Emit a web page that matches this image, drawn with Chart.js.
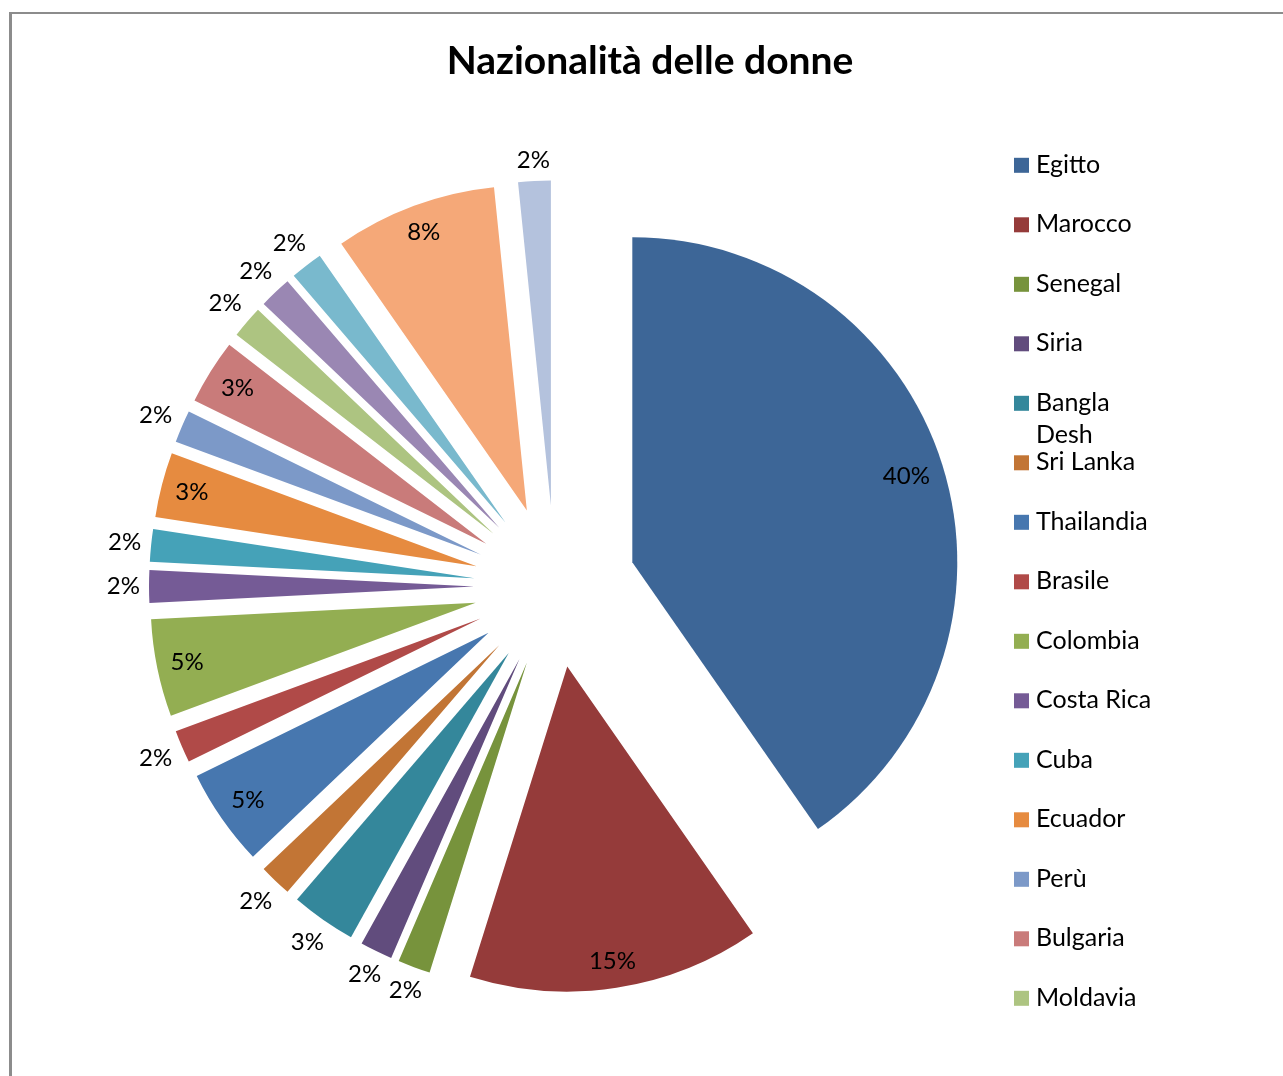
<!DOCTYPE html>
<html>
<head>
<meta charset="utf-8">
<script src="https://cdn.jsdelivr.net/npm/chart.js@4"></script>
<style>
  html, body { margin: 0; padding: 0; background: #fff; overflow: hidden; }
  #cornice {
    position: absolute; left: 9px; top: 12px; width: 1400px; height: 1200px;
    border-left: 3px solid #8c8c8c; border-top: 2px solid #8c8c8c;
  }
  #contenitore { position: absolute; left: 11px; top: 0; width: 1280px; height: 1093px; }
</style>
</head>
<body>
<div id="cornice"></div>
<div id="contenitore"><canvas id="grafico_nazionalita"></canvas></div>
<script>
// nazionalità (in ordine di inserimento) e numero di donne per ciascuna
const nazioni = ['Egitto', 'Marocco', 'Senegal', 'Siria', 'Bangla Desh', 'Sri Lanka', 'Thailandia',
  'Brasile', 'Colombia', 'Costa Rica', 'Cuba', 'Ecuador', 'Perù', 'Bulgaria', 'Moldavia',
  'Polonia', 'Russia', 'Romania', 'Ucraina'];
const donne = [25, 9, 1, 1, 2, 1, 3, 1, 3, 1, 1, 2, 1, 2, 1, 1, 1, 5, 1];

// colori delle fette
const colori = ['#3D6697', '#953B3A', '#77933C', '#614C7D', '#34879B', '#C27535', '#4777AF',
  '#B04A48', '#93AE52', '#755B96', '#45A2B8', '#E68B40', '#7C99C8', '#C97B7A', '#ADC481',
  '#9A87B3', '#79B9CD', '#F5A878', '#B4C2DD'];

// dove va la percentuale: dentro la fetta o fuori
const posizione_etichette = ['in', 'in', 'out', 'out', 'out', 'out', 'in', 'out', 'in', 'out',
  'out', 'in', 'out', 'in', 'out', 'out', 'out', 'in', 'out'];

const TITOLO = 'Nazionalità delle donne';
const DISTACCO = 81; // di quanto ogni fetta si stacca dal centro

// disegno le fette spostate lungo la loro bisettrice
const fette_staccate = {
  id: 'fette_staccate',
  beforeDatasetDraw(chart, args) {
    const ctx = chart.ctx;
    args.meta.data.forEach(arc => {
      const meta_angolo = (arc.startAngle + arc.endAngle) / 2;
      ctx.save();
      ctx.translate(Math.cos(meta_angolo) * DISTACCO, Math.sin(meta_angolo) * DISTACCO);
      arc.draw(ctx);
      ctx.restore();
    });
    return false;
  }
};

// percentuali sulle fette
const percentuali = {
  id: 'percentuali',
  afterDatasetsDraw(chart) {
    const ctx = chart.ctx;
    const meta = chart.getDatasetMeta(0);
    const totale = donne.reduce((a, b) => a + b, 0);
    ctx.save();
    ctx.font = '24px Lato';
    ctx.fillStyle = '#000';
    ctx.textAlign = 'center';
    ctx.textBaseline = 'middle';
    meta.data.forEach((arc, i) => {
      const angolo = (arc.startAngle + arc.endAngle) / 2;
      const cos = Math.cos(angolo), sin = Math.sin(angolo);
      const testo = Math.round(donne[i] / totale * 100) + '%';
      const mezza_larghezza = ctx.measureText(testo).width / 2;
      const ingombro = mezza_larghezza * Math.abs(cos) + 11 * Math.abs(sin);
      let r;
      if (posizione_etichette[i] === 'in') {
        r = arc.outerRadius - ingombro - 12;
      } else {
        r = arc.outerRadius + ingombro + 9;
      }
      ctx.fillText(testo, arc.x + cos * (DISTACCO + r), arc.y + sin * (DISTACCO + r));
    });
    ctx.restore();
  }
};

// titolo centrato su tutta la larghezza del riquadro (non solo sulla torta)
const titolo = {
  id: 'titolo',
  afterDraw(chart) {
    const ctx = chart.ctx;
    ctx.save();
    ctx.font = 'bold 39px Lato';
    ctx.fillStyle = '#000';
    ctx.textAlign = 'center';
    ctx.textBaseline = 'alphabetic';
    ctx.fillText(TITOLO, chart.width / 2 - 1, 74);
    ctx.restore();
  }
};

// legenda a destra, le voci che non ci stanno vengono tagliate
const legenda = {
  id: 'legenda',
  afterDraw(chart) {
    const ctx = chart.ctx;
    const x_box = 1003, x_testo = 1025;
    const prima_base = 172.8, passo = 59.5, limite = 1040;
    const larghezza_max = 120, interlinea = 32.4;
    ctx.save();
    ctx.font = '25px Lato';
    ctx.textAlign = 'left';
    ctx.textBaseline = 'alphabetic';
    chart.data.labels.forEach((nome, i) => {
      const base = prima_base + i * passo;
      if (base > limite) return;
      ctx.fillStyle = colori[i];
      ctx.fillRect(x_box, base - 15, 15, 15);
      // vado a capo se il nome è troppo lungo
      const righe = [];
      let riga = '';
      nome.split(' ').forEach(parola => {
        const prova = riga ? riga + ' ' + parola : parola;
        if (riga && ctx.measureText(prova).width > larghezza_max) {
          righe.push(riga);
          riga = parola;
        } else {
          riga = prova;
        }
      });
      righe.push(riga);
      ctx.fillStyle = '#000';
      righe.forEach((r, k) => ctx.fillText(r, x_testo, base + k * interlinea));
    });
    ctx.restore();
  }
};

const grafico = new Chart(document.getElementById('grafico_nazionalita'), {
  type: 'pie',
  data: {
    labels: nazioni,
    datasets: [{
      data: donne,
      backgroundColor: colori,
      borderWidth: 0
    }]
  },
  options: {
    responsive: true,
    maintainAspectRatio: false,
    animation: false,
    radius: 325,
    layout: { padding: { left: 0, right: 192, top: 80, bottom: 0 } },
    plugins: {
      legend: { display: false },
      tooltip: { enabled: false },
      title: { display: false }
    }
  },
  plugins: [fette_staccate, percentuali, titolo, legenda]
});
</script>
</body>
</html>
